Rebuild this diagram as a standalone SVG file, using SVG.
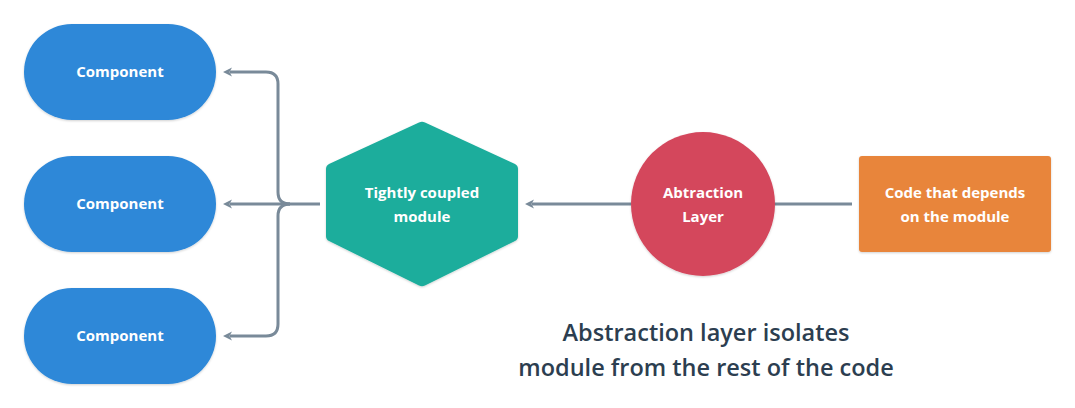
<svg xmlns="http://www.w3.org/2000/svg" width="1075" height="408" viewBox="0 0 1075 408">
<defs>
<filter id="sh" x="-10%" y="-10%" width="120%" height="130%">
<feDropShadow dx="0" dy="1" stdDeviation="1.2" flood-color="#000" flood-opacity="0.18"/>
</filter>
<marker id="ah" viewBox="0 0 10 10" refX="3" refY="5" markerWidth="10" markerHeight="10" markerUnits="userSpaceOnUse" orient="auto">
<path d="M10,5 L1,0.5 L3.5,5 L1,9.5 Z" fill="#798a99"/>
</marker>
<style>
.lbl{font-family:"Open Sans","Noto Sans","Liberation Sans",sans-serif;font-weight:700;font-size:15px;fill:#fff;text-anchor:middle}
.cap{font-family:"Open Sans","Noto Sans","Liberation Sans",sans-serif;font-weight:600;font-size:23.5px;fill:#2c3e50;text-anchor:middle}
.con{fill:none;stroke:#798a99;stroke-width:3}
</style>
</defs>
<rect width="1075" height="408" fill="#fff"/>
<g id="connectors">
<path class="con" d="M320,204 H290 Q278,204 278,192 V84 Q278,72 266,72 H230" marker-end="url(#ah)"/>
<path class="con" d="M290,204 H230" marker-end="url(#ah)"/>
<path class="con" d="M290,204 Q278,204 278,216 V324 Q278,336 266,336 H230" marker-end="url(#ah)"/>
<path class="con" d="M631,204 H532" marker-end="url(#ah)"/>
<path class="con" d="M775,204 H852"/>
</g>
<g id="comp1">
<rect x="24" y="24" width="192" height="96" rx="48" fill="#2d88d8" filter="url(#sh)"/>
<text class="lbl" x="120" y="77">Component</text>
</g>
<g id="comp2">
<rect x="24" y="156" width="192" height="96" rx="48" fill="#2d88d8" filter="url(#sh)"/>
<text class="lbl" x="120" y="209">Component</text>
</g>
<g id="comp3">
<rect x="24" y="288" width="192" height="96" rx="48" fill="#2d88d8" filter="url(#sh)"/>
<text class="lbl" x="120" y="341">Component</text>
</g>
<g id="module">
<path d="M419,122.5 Q422,121 425,122.5 L515,164 Q518,165.5 518,169 V236 Q518,239.5 515,241 L425,285.5 Q422,287 419,285.5 L329,241 Q326,239.5 326,236 V169 Q326,165.5 329,164 Z" fill="#1aad9c" filter="url(#sh)"/>
<text class="lbl" x="422" y="198">Tightly coupled</text>
<text class="lbl" x="422" y="222">module</text>
</g>
<g id="abstraction">
<circle cx="703" cy="204" r="72" fill="#d4465c" filter="url(#sh)"/>
<text class="lbl" x="703" y="198">Abtraction</text>
<text class="lbl" x="703" y="222">Layer</text>
</g>
<g id="code">
<rect x="859" y="156" width="192" height="96" rx="3" fill="#e8853a" filter="url(#sh)"/>
<text class="lbl" x="955" y="198">Code that depends</text>
<text class="lbl" x="955" y="222">on the module</text>
</g>
<g id="caption">
<text class="cap" x="706" y="341">Abstraction layer isolates</text>
<text class="cap" x="706" y="376">module from the rest of the code</text>
</g>
</svg>
